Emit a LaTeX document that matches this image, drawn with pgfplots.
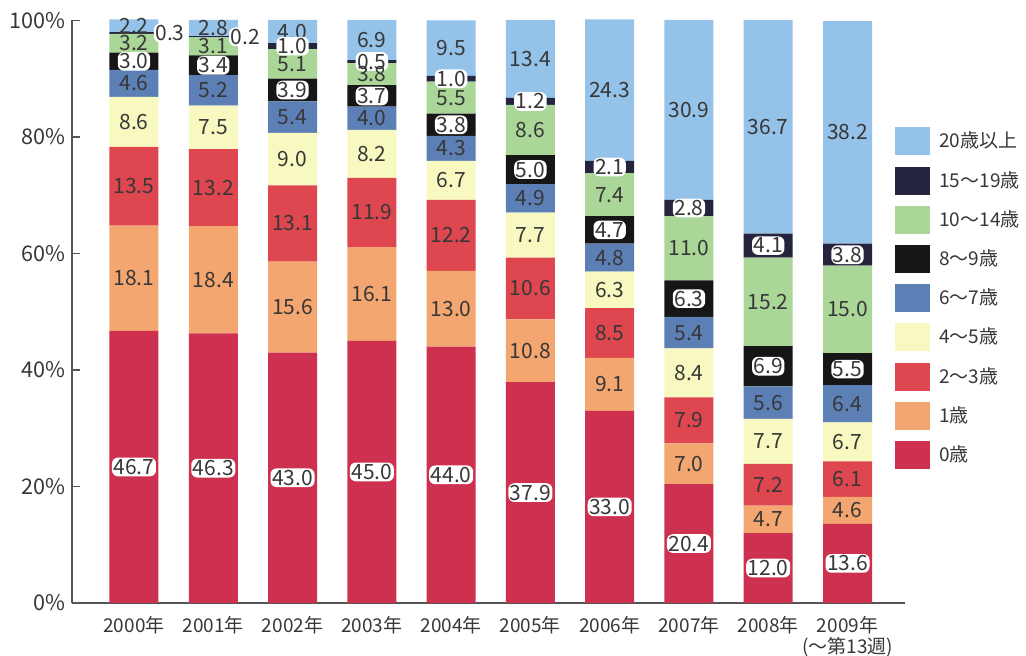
\documentclass[border=0pt]{standalone}
\usepackage{pgfplots}
\pgfplotsset{compat=1.18}
\usepackage{pgfplotstable}
\usepackage{fontspec}
\setmainfont{Noto Sans CJK JP}
\definecolor{c0}{RGB}{206,48,80}
\definecolor{c1}{RGB}{243,166,112}
\definecolor{c23}{RGB}{222,70,80}
\definecolor{c45}{RGB}{248,249,192}
\definecolor{c67}{RGB}{92,128,182}
\definecolor{c89}{RGB}{22,22,22}
\definecolor{c1014}{RGB}{170,214,152}
\definecolor{c1519}{RGB}{36,36,62}
\definecolor{c20}{RGB}{148,194,232}
\definecolor{txt}{RGB}{55,55,55}
\definecolor{axc}{RGB}{85,85,85}

\pgfplotstableread{
x a0 a1 a23 a45 a67 a89 a1014 a1519 a20
0 46.7 18.1 13.5 8.6 4.6 3.0 3.2 0.3 2.2
1 46.3 18.4 13.2 7.5 5.2 3.4 3.1 0.2 2.8
2 43.0 15.6 13.1 9.0 5.4 3.9 5.1 1.0 4.0
3 45.0 16.1 11.9 8.2 4.0 3.7 3.8 0.5 6.9
4 44.0 13.0 12.2 6.7 4.3 3.8 5.5 1.0 9.5
5 37.9 10.8 10.6 7.7 4.9 5.0 8.6 1.2 13.4
6 33.0 9.1 8.5 6.3 4.8 4.7 7.4 2.1 24.3
7 20.4 7.0 7.9 8.4 5.4 6.3 11.0 2.8 30.9
8 12.0 4.7 7.2 7.7 5.6 6.9 15.2 4.1 36.7
9 13.6 4.6 6.1 6.7 6.4 5.5 15.0 3.8 38.2
}\data

\pgfplotsset{
  lbl/.style={
    nodes near coords={\pgfmathprintnumber[fixed,fixed zerofill,precision=1,assume math mode=true]{\pgfplotspointmeta}},
    point meta=explicit,
    every node near coord/.append style={anchor=center,
      font=\fontsize{10.5}{12}\selectfont, text=txt, inner sep=0.8pt},
  },
  halo/.style={every node near coord/.append style={fill=white, rounded corners=3pt}},
  sideshift/.style={every node near coord/.append style={
      /utils/exec={\pgfkeys{/pgf/fpu=true,/pgf/fpu/output format=fixed}%
        \pgfmathparse{\pgfplotspointmeta<0.25 ? 16 : (\pgfplotspointmeta<0.4 ? 18 : 0)}\xdef\myxs{\pgfmathresult}%
        \pgfkeys{/pgf/fpu=false}},
      xshift=\myxs pt}},
}

\begin{document}
\begin{tikzpicture}
\useasboundingbox (-36pt,-26.5pt) rectangle (477pt,301.5pt);
\begin{axis}[
  at={(0pt,0pt)}, anchor=south west,
  x=39.64pt, y=2.9125pt,
  xmin=-0.782, xmax=9.725,
  ymin=0, ymax=100,
  clip=false,
  ybar stacked, bar width=24.5pt,
  axis x line*=bottom, axis y line*=left,
  axis line style={axc, line width=0.6pt},
  xtick=data,
  xticklabels={2000年,2001年,2002年,2003年,2004年,2005年,2006年,2007年,2008年,{2009年\\(〜第13週)}},
  xticklabel style={align=center, font=\fontsize{9.5}{10.5}\selectfont, text=txt, yshift=-3pt},
  x tick style={draw=none},
  ytick={0,20,40,60,80,100},
  yticklabels={0\%,20\%,40\%,60\%,80\%,100\%},
  yticklabel style={font=\fontsize{10.8}{12}\selectfont, text=txt},
  y tick style={axc, line width=0.6pt},
  tick align=inside, major tick length=4pt,
  legend cell align=left,
  reverse legend,
  legend image code/.code={\path[#1,draw=none] (0pt,-7pt) rectangle (17.5pt,7pt);},
  legend style={at={(0.988,0.817)}, anchor=north west, draw=none, fill=none,
    font=\fontsize{9.5}{11}\selectfont, text=txt, row sep=5.6pt, inner sep=0pt,
    /tikz/every odd column/.append style={column sep=2.5pt}},
]
\addplot[fill=c0, draw=none, lbl, halo] table[x=x, y=a0, meta=a0] {\data};
\addplot[fill=c1, draw=none, lbl] table[x=x, y=a1, meta=a1] {\data};
\addplot[fill=c23, draw=none, lbl] table[x=x, y=a23, meta=a23] {\data};
\addplot[fill=c45, draw=none, lbl] table[x=x, y=a45, meta=a45] {\data};
\addplot[fill=c67, draw=none, lbl] table[x=x, y=a67, meta=a67] {\data};
\addplot[fill=c89, draw=none, lbl, halo] table[x=x, y=a89, meta=a89] {\data};
\addplot[fill=c1014, draw=none, lbl] table[x=x, y=a1014, meta=a1014] {\data};
\addplot[fill=c1519, draw=none, lbl, halo, sideshift] table[x=x, y=a1519, meta=a1519] {\data};
\addplot[fill=c20, draw=none, lbl] table[x=x, y=a20, meta=a20] {\data};
\legend{0歳,1歳,2〜3歳,4〜5歳,6〜7歳,8〜9歳,10〜14歳,15〜19歳,20歳以上}
\end{axis}
\end{tikzpicture}
\end{document}
